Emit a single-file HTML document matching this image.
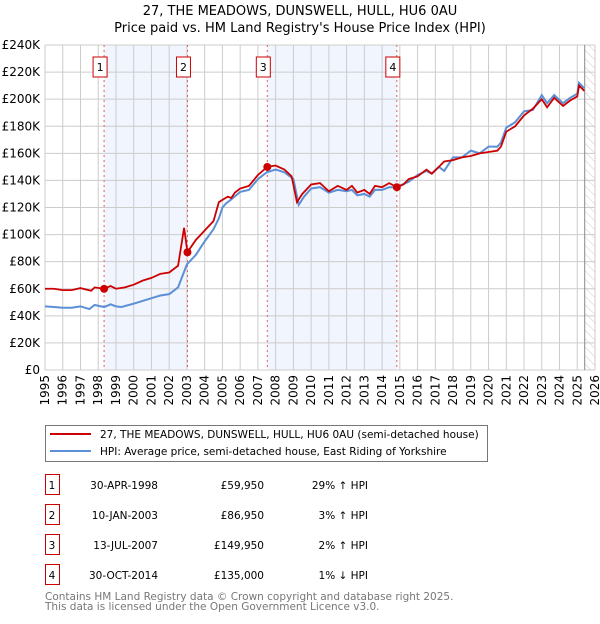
<!DOCTYPE html>
<html><head><meta charset="utf-8"><style>
body{margin:0;background:#fff;width:600px;height:620px;overflow:hidden;font-family:"DejaVu Sans","Liberation Sans",sans-serif;}
svg text{font-family:"DejaVu Sans","Liberation Sans",sans-serif;}
</style></head><body>
<svg id="c" width="600" height="620" viewBox="0 0 600 620">
<defs><pattern id="hatch" width="6" height="6" patternUnits="userSpaceOnUse" patternTransform="rotate(-45)"><line x1="0" y1="0" x2="0" y2="6" stroke="#ccc" stroke-width="1"/></pattern></defs>
<text x="300" y="15" text-anchor="middle" font-size="13">27, THE MEADOWS, DUNSWELL, HULL, HU6 0AU</text>
<text x="300" y="32" text-anchor="middle" font-size="13">Price paid vs. HM Land Registry's House Price Index (HPI)</text>
<g id="plot"></g>
<g>
<rect x="45.5" y="425.5" width="442" height="36" fill="#fff" stroke="#777"/>
<line x1="50" y1="434" x2="91" y2="434" stroke="#cc0000" stroke-width="2"/>
<text x="100" y="438" font-size="10.5">27, THE MEADOWS, DUNSWELL, HULL, HU6 0AU (semi-detached house)</text>
<line x1="50" y1="451" x2="91" y2="451" stroke="#5b8fd6" stroke-width="2"/>
<text x="100" y="455" font-size="10.5">HPI: Average price, semi-detached house, East Riding of Yorkshire</text>
</g>
<g id="table" font-size="10.5"></g>
<text x="45" y="600" font-size="10.5" fill="#777">Contains HM Land Registry data © Crown copyright and database right 2025.</text>
<text x="45" y="610" font-size="10.5" fill="#777">This data is licensed under the Open Government Licence v3.0.</text>
</svg>
<script>
const yTicks=[0,20,40,60,80,100,120,140,160,180,200,220,240];
const yTickLabels=["£0","£20K","£40K","£60K","£80K","£100K","£120K","£140K","£160K","£180K","£200K","£220K","£240K"];
const xYears=[1995,1996,1997,1998,1999,2000,2001,2002,2003,2004,2005,2006,2007,2008,2009,2010,2011,2012,2013,2014,2015,2016,2017,2018,2019,2020,2021,2022,2023,2024,2025,2026];
const hpiT=[1995,1995.5,1996,1996.5,1997,1997.5,1997.8,1998.33,1998.7,1999,1999.3,2000,2000.5,2001,2001.5,2002,2002.5,2003,2003.5,2004,2004.5,2004.8,2005,2005.2,2005.5,2006,2006.5,2007,2007.5,2008,2008.5,2009,2009.3,2009.6,2010,2010.5,2011,2011.5,2012,2012.3,2012.6,2013,2013.3,2013.6,2014,2014.4,2014.8,2015.5,2016,2016.5,2016.8,2017.2,2017.5,2018,2018.5,2019,2019.5,2020,2020.5,2020.7,2021,2021.5,2022,2022.5,2023,2023.3,2023.7,2024.2,2024.6,2025,2025.1,2025.4];
const hpiV=[47,46.5,46,46,47,45,48,46.5,48.5,47,46.5,49,51,53,55,56,61,78,85,95,104,112,120,123,126,131.5,133,141,146,148,146,141,122,128,134,135,131,133,132,133,129,130,128,133,133,135,135,139,144,147,145,150,147,157,157,162,160,165,165,168,179,183,191,192,203,197,203,197,201,204,212,208];
const priceT=[1995,1995.5,1996,1996.5,1997,1997.6,1997.8,1998.33,1998.7,1999,1999.5,2000,2000.5,2001,2001.5,2002,2002.5,2002.84,2003.03,2003.5,2004,2004.5,2004.8,2005.3,2005.5,2005.7,2006,2006.5,2007,2007.53,2008,2008.5,2008.9,2009.2,2009.5,2010,2010.5,2011,2011.5,2012,2012.3,2012.6,2013,2013.3,2013.6,2014,2014.4,2014.83,2015.2,2015.5,2016,2016.5,2016.8,2017.2,2017.5,2018,2018.5,2019,2019.5,2020,2020.5,2020.7,2021,2021.5,2022,2022.5,2023,2023.3,2023.7,2024.2,2024.6,2025,2025.1,2025.4];
const priceV=[60,60,59,59,60.5,58.5,61,60,62,60,61,63,66,68,71,72,77,105,87,96,103,110,124,128,127,131,134,136,144,150,151,148,143,124,130,137,138,132,136,133,136,131,133,130,136,135,138,135,137,141,143,148,145,150,154,155,157,158,160,161,162,165,176,180,188,193,200,194,201,195,199,202,210,206];
const saleLabels=["1","2","3","4"];
const saleT=[1998.33,2003.03,2007.53,2014.83];
const saleV=[59.95,86.95,149.95,135];
const saleDates=["30-APR-1998","10-JAN-2003","13-JUL-2007","30-OCT-2014"];
const salePrices=["£59,950","£86,950","£149,950","£135,000"];
const saleHpi=["29% ↑ HPI","3% ↑ HPI","2% ↑ HPI","1% ↓ HPI"];

const X0=45,X1=595,Y0=370,Y1=45;
const xs=t=>X0+(t-1995)*(X1-X0)/31;
const ys=v=>Y0-v*(Y0-Y1)/240;
const NS="http://www.w3.org/2000/svg";
const plot=document.getElementById('plot');
function mk(tag,attrs,parent){const e=document.createElementNS(NS,tag);for(const k in attrs)e.setAttribute(k,attrs[k]);(parent||plot).appendChild(e);return e;}

let r=mk('rect',{x:xs(saleT[0]),y:Y1,width:xs(saleT[1])-xs(saleT[0]),height:Y0-Y1,fill:'#eef3fc',opacity:0.8});


r=mk('rect',{x:xs(saleT[2]),y:Y1,width:xs(saleT[3])-xs(saleT[2]),height:Y0-Y1,fill:'#eef3fc',opacity:0.8});


r=mk('rect',{x:xs(2025.42),y:Y1,width:X1-xs(2025.42),height:Y0-Y1,fill:'url(#hatch)'});



yTicks.forEach((v,i)=>{
 const l=mk('line',{x1:X0,x2:X1,y1:ys(v),y2:ys(v),stroke:'#ccc','stroke-width':1});
 
 
 const t=mk('text',{x:X0-5,y:ys(v)+4,'text-anchor':'end','font-size':12});
 t.textContent=yTickLabels[i];
 
 
});
xYears.forEach(yr=>{
 const l=mk('line',{x1:xs(yr),x2:xs(yr),y1:Y1,y2:Y0,stroke:'#ccc','stroke-width':1});
 
 
 const t=mk('text',{x:0,y:0,'text-anchor':'end','font-size':12,transform:`translate(${xs(yr)+4},${Y0+5}) rotate(-90)`});
 t.textContent=yr;
 
 
});
const nl=mk('line',{x1:xs(2025.42),x2:xs(2025.42),y1:Y1,y2:Y0,stroke:'#888','stroke-width':1});



saleT.forEach((t,i)=>{
 const l=mk('line',{x1:xs(t),x2:xs(t),y1:Y1,y2:Y0,stroke:'#e06060','stroke-width':1,'stroke-dasharray':'2,3'});
 
 
});

const hp=mk('polyline',{points:hpiT.map((t,i)=>xs(t)+','+ys(hpiV[i])).join(' '),fill:'none',stroke:'#5b8fd6','stroke-width':2});


const pp=mk('polyline',{points:priceT.map((t,i)=>xs(t)+','+ys(priceV[i])).join(' '),fill:'none',stroke:'#cc0000','stroke-width':1.8});



saleT.forEach((t,i)=>{
 const c=mk('circle',{cx:xs(t),cy:ys(saleV[i]),r:4,fill:'#cc0000'});
 
 
 const b=mk('rect',{x:xs(t)-11,y:57,width:14,height:20,fill:'#fff',stroke:'#cc0000','stroke-width':1});
 
 
 const tx=mk('text',{x:xs(t)-4,y:71,'text-anchor':'middle','font-size':11});
 tx.textContent=saleLabels[i];
 
 
});

const tb=document.getElementById('table');
saleT.forEach((t,i)=>{
 const y=483+i*30;
 const b=mk('rect',{x:45.5,y:y-8.5,width:14,height:20,fill:'#fff',stroke:'#cc0000'},tb);
 
 
 const cells=[[52,saleLabels[i],'middle'],[158,saleDates[i],'end'],[264,salePrices[i],'end'],[368,saleHpi[i],'end']];
 cells.forEach(([x,s,a],j)=>{
  const e=mk('text',{x:x,y:y+6,'text-anchor':a},tb);
  e.textContent=s;
  
  
 });
});
</script>
</body></html>
